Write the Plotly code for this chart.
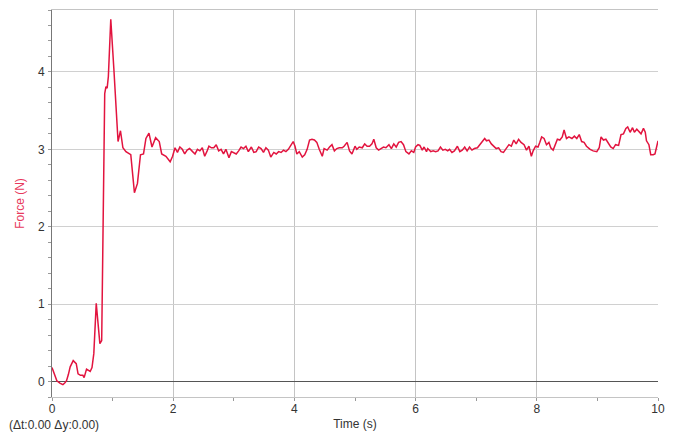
import plotly.graph_objects as go

time_s = [
    0.00, 0.04, 0.08, 0.13, 0.18, 0.21, 0.24, 0.27, 0.30, 0.35, 0.40, 0.43, 0.47, 0.51, 0.53,
    0.57, 0.60, 0.63, 0.66, 0.69, 0.73, 0.79, 0.82, 0.86, 0.87, 0.89, 0.91, 0.93, 0.97, 1.02,
    1.05, 1.09, 1.13, 1.17, 1.22, 1.26, 1.30, 1.36, 1.41, 1.46, 1.51, 1.55, 1.60, 1.65, 1.71,
    1.77, 1.81, 1.88, 1.95, 1.99, 2.03, 2.07, 2.11, 2.15, 2.19, 2.23, 2.27, 2.32, 2.36, 2.40,
    2.44, 2.48, 2.52, 2.56, 2.59, 2.63, 2.67, 2.71, 2.75, 2.79, 2.83, 2.87, 2.92, 2.96, 3.00,
    3.04, 3.08, 3.12, 3.16, 3.20, 3.24, 3.29, 3.33, 3.37, 3.41, 3.45, 3.49, 3.53, 3.57, 3.61,
    3.66, 3.70, 3.74, 3.78, 3.82, 3.86, 3.90, 3.94, 3.98, 4.01, 4.04, 4.08, 4.13, 4.17, 4.21,
    4.25, 4.29, 4.33, 4.37, 4.41, 4.46, 4.49, 4.54, 4.58, 4.62, 4.66, 4.70, 4.74, 4.79, 4.82,
    4.87, 4.91, 4.95, 5.00, 5.03, 5.07, 5.12, 5.16, 5.20, 5.24, 5.28, 5.31, 5.35, 5.39, 5.43,
    5.47, 5.51, 5.56, 5.60, 5.64, 5.68, 5.72, 5.76, 5.80, 5.84, 5.89, 5.93, 5.97, 6.00, 6.04,
    6.07, 6.11, 6.14, 6.18, 6.20, 6.25, 6.29, 6.33, 6.37, 6.41, 6.45, 6.49, 6.53, 6.56, 6.60,
    6.64, 6.69, 6.73, 6.77, 6.81, 6.85, 6.89, 6.93, 6.97, 7.02, 7.06, 7.10, 7.14, 7.17, 7.21,
    7.25, 7.29, 7.33, 7.37, 7.41, 7.45, 7.50, 7.54, 7.58, 7.62, 7.66, 7.70, 7.74, 7.79, 7.83,
    7.87, 7.91, 7.94, 7.98, 8.02, 8.05, 8.08, 8.12, 8.16, 8.20, 8.23, 8.27, 8.31, 8.34, 8.38,
    8.42, 8.45, 8.49, 8.53, 8.58, 8.62, 8.66, 8.70, 8.74, 8.78, 8.82, 8.88, 8.93, 8.99, 9.03,
    9.06, 9.10, 9.14, 9.18, 9.22, 9.26, 9.30, 9.35, 9.39, 9.43, 9.47, 9.50, 9.54, 9.58, 9.61,
    9.65, 9.69, 9.72, 9.76, 9.79, 9.81, 9.85, 9.88, 9.92, 9.95, 9.98, 10.00,
]

force_n = [
    0.18, 0.10, 0.01, -0.02, -0.04, -0.02, 0.01, 0.09, 0.19, 0.27, 0.23, 0.10, 0.08, 0.08, 0.05,
    0.16, 0.14, 0.13, 0.18, 0.36, 1.01, 0.49, 0.53, 3.08, 3.72, 3.81, 3.79, 3.94, 4.68, 4.05,
    3.68, 3.10, 3.24, 3.02, 2.97, 2.95, 2.93, 2.44, 2.56, 2.93, 2.94, 3.14, 3.21, 3.03, 3.15,
    3.10, 2.94, 2.91, 2.84, 2.91, 3.02, 2.96, 3.03, 3.00, 2.94, 2.99, 3.01, 2.97, 2.94, 3.00,
    2.98, 3.02, 2.91, 2.98, 3.04, 3.02, 3.02, 3.06, 2.98, 3.00, 2.94, 3.00, 2.89, 2.97, 2.96,
    2.94, 2.98, 3.03, 3.01, 3.04, 2.97, 3.03, 2.96, 2.97, 3.03, 3.01, 2.96, 3.02, 2.99, 2.90,
    2.96, 2.94, 2.97, 2.96, 2.99, 2.97, 3.00, 3.06, 3.10, 3.04, 2.94, 2.97, 2.90, 2.93, 3.00,
    3.12, 3.13, 3.12, 3.09, 3.00, 2.91, 3.01, 2.99, 3.03, 3.06, 2.98, 3.01, 3.02, 3.02, 3.04,
    3.09, 2.98, 2.94, 3.04, 3.00, 3.03, 3.02, 3.07, 3.04, 3.04, 3.07, 3.13, 3.02, 2.99, 3.01,
    3.03, 3.02, 3.06, 3.01, 3.07, 3.03, 3.09, 3.10, 3.06, 2.97, 2.94, 2.98, 2.96, 3.03, 3.06,
    3.05, 2.99, 3.03, 2.97, 3.01, 2.97, 2.98, 2.97, 2.98, 3.03, 2.99, 3.00, 2.98, 3.00, 2.96,
    2.98, 3.04, 2.97, 2.99, 3.03, 2.98, 3.03, 2.99, 3.01, 3.02, 3.06, 3.09, 3.14, 3.11, 3.12,
    3.07, 3.04, 3.01, 3.02, 2.97, 2.96, 3.02, 3.06, 3.04, 3.12, 3.07, 3.13, 3.09, 3.06, 2.99,
    3.04, 2.91, 2.98, 3.04, 3.03, 3.09, 3.16, 3.14, 3.06, 3.09, 3.02, 2.99, 3.06, 3.13, 3.12,
    3.16, 3.25, 3.14, 3.16, 3.14, 3.17, 3.14, 3.19, 3.10, 3.09, 3.04, 3.00, 2.98, 2.97, 3.02,
    3.16, 3.12, 3.13, 3.07, 3.03, 3.01, 3.06, 3.05, 3.19, 3.20, 3.27, 3.29, 3.22, 3.28, 3.22,
    3.26, 3.22, 3.20, 3.27, 3.22, 3.11, 3.06, 2.93, 2.93, 2.94, 3.04, 3.11,
]

x_ticks = [0, 2, 4, 6, 8, 10]
y_ticks = [0, 1, 2, 3, 4]

FONT = "Liberation Sans, Arial, sans-serif"
LINE = "#e2143f"

fig = go.Figure()
fig.add_trace(go.Scatter(
    x=time_s, y=force_n, mode="lines",
    line=dict(color=LINE, width=1.5),
    hoverinfo="skip", showlegend=False,
))

fig.update_layout(
    width=667, height=425,
    margin=dict(l=44, r=17, t=2, b=36),
    paper_bgcolor="white", plot_bgcolor="white",
    font=dict(family=FONT, size=12, color="#333333"),
    xaxis=dict(
        range=[0, 10], tickvals=x_ticks, ticktext=[str(v) for v in x_ticks],
        showgrid=True, gridcolor="#c4c4c4", gridwidth=1,
        zeroline=False, showline=True, linecolor="#c4c4c4", mirror=True,
        ticks="", ticklabelstandoff=1,
        minor=dict(dtick=1, ticks="outside", ticklen=3, tickcolor="#999999", showgrid=False),
        title=dict(text="Time (s)", standoff=4, font=dict(size=12, color="#333333")),
        fixedrange=True,
    ),
    yaxis=dict(
        range=[-0.2, 4.8], tickvals=y_ticks, ticktext=[str(v) for v in y_ticks],
        showgrid=True, gridcolor="#d0d0d0", gridwidth=1,
        zeroline=True, zerolinecolor="#555555", zerolinewidth=1,
        showline=True, linecolor="#777777", mirror=False,
        ticks="", ticklabelstandoff=4,
        minor=dict(dtick=0.2, ticks="outside", ticklen=3, tickcolor="#999999", showgrid=False),
        title=dict(text="Force (N)", standoff=10, font=dict(size=12, color="#e8385c")),
        fixedrange=True,
    ),
    annotations=[dict(
        text="(\u0394t:0.00 \u0394y:0.00)", xref="paper", yref="paper",
        x=-44 / 606, y=-0.072, xanchor="left", yanchor="middle", showarrow=False,
        borderpad=0, font=dict(size=12, color="#333333"),
    )],
)

fig.write_html("out.html")
